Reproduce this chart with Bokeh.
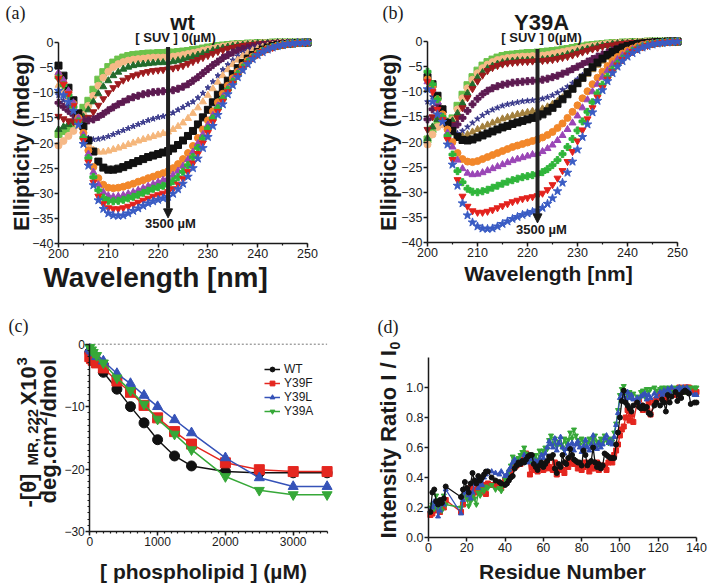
import math
from bokeh.plotting import figure
from bokeh.layouts import row, column
from bokeh.models import (Label, Arrow, NormalHead, Legend, LegendItem, Range1d, LinearAxis,
                          SingleIntervalTicker, PrintfTickFormatter)
from bokeh.embed import file_html
from bokeh.resources import INLINE

# ---------------- data ----------------
WAVELENGTH = list(range(200, 251))

# panel (a) wt : CD spectra at increasing [SUV]
WT_S01 = [-18.2, -17.6, -17.0, -16.2, -15.0, -13.0, -11.6, -9.4, -7.4, -5.9, -4.9,
          -4.0, -3.4, -3.0, -2.7, -2.5, -2.4, -2.3, -2.2, -2.2, -2.1,
          -2.1, -2.0, -2.0, -1.9, -1.8, -1.7, -1.5, -1.4, -1.2, -1.0,
          -0.9, -0.7, -0.6, -0.5, -0.4, -0.3, -0.3, -0.2, -0.2, -0.1,
          -0.1, -0.1, 0, 0, 0, 0, 0, 0, 0, 0]
WT_S02 = [-20.5, -19.6, -18.6, -17.6, -16.4, -14.4, -12.6, -10.6, -8.6, -7.0, -5.8,
          -4.9, -4.3, -3.9, -3.6, -3.4, -3.3, -3.2, -3.1, -3.0, -3.0,
          -3.0, -2.9, -2.8, -2.7, -2.5, -2.3, -2.1, -1.9, -1.6, -1.4,
          -1.2, -1.0, -0.8, -0.7, -0.5, -0.4, -0.4, -0.3, -0.2, -0.2,
          -0.1, -0.1, -0.1, 0, 0, 0, 0, 0, 0, 0]
WT_S03 = [-17.3, -16.8, -16.3, -15.8, -15.4, -14.8, -13.4, -11.8, -10.2, -8.8, -7.6,
          -6.6, -5.9, -5.3, -4.9, -4.6, -4.4, -4.3, -4.2, -4.1, -4.0,
          -4.0, -3.9, -3.8, -3.6, -3.4, -3.1, -2.8, -2.5, -2.2, -1.9,
          -1.6, -1.3, -1.1, -0.9, -0.7, -0.6, -0.5, -0.4, -0.3, -0.2,
          -0.2, -0.1, -0.1, 0, 0, 0, 0, 0, 0, 0]
WT_S04 = [-14.7, -15.2, -15.6, -15.8, -15.8, -15.7, -14.9, -13.8, -12.5, -11.2, -10.0,
          -9.0, -8.2, -7.5, -7.0, -6.6, -6.3, -6.0, -5.8, -5.6, -5.5,
          -5.4, -5.3, -5.1, -4.9, -4.6, -4.2, -3.8, -3.4, -3.0, -2.6,
          -2.2, -1.8, -1.5, -1.2, -1.0, -0.8, -0.6, -0.5, -0.4, -0.3,
          -0.2, -0.2, -0.1, -0.1, 0, 0, 0, 0, 0, 0]
WT_S05 = [-12.0, -12.8, -13.6, -14.4, -15.0, -15.4, -15.5, -15.3, -14.8, -14.2, -13.5,
          -12.9, -12.3, -11.8, -11.3, -10.9, -10.6, -10.3, -10.1, -9.9, -9.8,
          -9.7, -9.6, -9.5, -9.2, -8.8, -8.3, -7.6, -6.9, -6.1, -5.3,
          -4.5, -3.8, -3.1, -2.5, -2.0, -1.6, -1.3, -1.0, -0.8, -0.6,
          -0.5, -0.4, -0.3, -0.2, -0.2, -0.1, -0.1, 0, 0, 0]
WT_S06 = [-10.5, -11.5, -12.6, -13.8, -15.5, -17.8, -19.0, -19.3, -19.2, -19.0, -18.7,
          -18.3, -17.9, -17.5, -17.1, -16.7, -16.3, -15.9, -15.5, -15.2, -14.9,
          -14.7, -14.5, -14.0, -13.4, -12.9, -12.3, -11.8, -11.0, -10.1, -9.0,
          -7.8, -6.6, -5.4, -4.4, -3.5, -2.7, -2.1, -1.6, -1.2, -0.9,
          -0.7, -0.5, -0.4, -0.3, -0.2, -0.2, -0.1, -0.1, 0, 0]
WT_S07 = [-8.5, -9.5, -11.0, -12.8, -14.8, -17.5, -20.3, -21.4, -21.8, -21.8, -21.6,
          -21.3, -21.0, -20.7, -20.3, -20.0, -19.6, -19.3, -19.0, -18.7, -18.4,
          -18.1, -17.8, -17.3, -16.7, -16.0, -15.1, -14.1, -13.0, -11.8, -10.5,
          -9.2, -7.9, -6.6, -5.4, -4.4, -3.5, -2.7, -2.1, -1.6, -1.2,
          -0.9, -0.7, -0.5, -0.4, -0.3, -0.2, -0.1, -0.1, 0, 0]
WT_S08 = [-4.6, -6.6, -9.0, -11.5, -14.1, -16.7, -19.5, -21.7, -23.7, -24.9, -25.3,
          -25.3, -25.1, -24.8, -24.4, -24.0, -23.6, -23.2, -22.8, -22.5, -22.2,
          -21.9, -21.6, -21.1, -20.4, -19.5, -18.6, -17.6, -16.3, -14.9, -13.4,
          -11.9, -10.4, -9.0, -7.6, -6.3, -5.1, -4.1, -3.2, -2.5, -1.9,
          -1.4, -1.0, -0.7, -0.5, -0.4, -0.3, -0.2, -0.1, -0.1, 0]
WT_S09 = [-6.5, -8.0, -10.0, -12.2, -15.0, -18.0, -21.5, -24.8, -27.0, -28.3, -28.9,
          -29.0, -28.9, -28.7, -28.4, -28.1, -27.7, -27.4, -27.0, -26.7, -26.3,
          -26.0, -25.6, -25.0, -24.2, -23.2, -22.0, -20.6, -19.0, -17.3, -15.5,
          -13.7, -11.9, -10.2, -8.6, -7.1, -5.8, -4.6, -3.6, -2.8, -2.1,
          -1.6, -1.2, -0.9, -0.6, -0.4, -0.3, -0.2, -0.1, -0.1, 0]
WT_S10 = [-6.0, -7.5, -9.6, -12.0, -15.0, -18.4, -22.2, -25.8, -28.3, -29.8, -30.5,
          -30.7, -30.6, -30.4, -30.1, -29.8, -29.4, -29.0, -28.6, -28.2, -27.8,
          -27.4, -27.0, -26.4, -25.6, -24.6, -23.3, -21.8, -20.1, -18.3, -16.4,
          -14.5, -12.6, -10.8, -9.1, -7.5, -6.1, -4.9, -3.8, -2.9, -2.2,
          -1.7, -1.3, -0.9, -0.7, -0.5, -0.3, -0.2, -0.1, -0.1, 0]
WT_S11 = [-7.0, -8.5, -10.5, -12.8, -15.7, -19.0, -23.0, -26.8, -29.4, -30.9, -31.5,
          -31.6, -31.5, -31.3, -31.0, -30.7, -30.3, -29.9, -29.5, -29.1, -28.8,
          -28.5, -28.2, -27.6, -26.8, -25.7, -24.4, -22.8, -21.0, -19.1, -17.1,
          -15.1, -13.1, -11.2, -9.4, -7.8, -6.3, -5.0, -3.9, -3.0, -2.3,
          -1.7, -1.3, -0.9, -0.7, -0.5, -0.3, -0.2, -0.1, -0.1, 0]
WT_S12 = [-7.2, -8.3, -10.2, -12.6, -15.8, -19.5, -23.8, -27.8, -30.6, -32.1, -32.9,
          -33.1, -33.1, -32.9, -32.6, -32.2, -31.8, -31.4, -31.0, -30.6, -30.3,
          -30.0, -29.7, -29.1, -28.2, -27.1, -25.7, -24.0, -22.1, -20.0, -17.9,
          -15.8, -13.7, -11.7, -9.8, -8.1, -6.6, -5.2, -4.1, -3.1, -2.4,
          -1.8, -1.3, -1.0, -0.7, -0.5, -0.3, -0.2, -0.1, -0.1, 0]
WT_S13 = [-9.6, -10.5, -11.8, -13.6, -16.4, -20.2, -24.5, -28.4, -31.4, -33.1, -34.0,
          -34.4, -34.5, -34.4, -34.0, -33.5, -33.0, -32.5, -32.0, -31.6, -31.3,
          -31.0, -30.7, -30.1, -29.2, -28.1, -26.7, -25.0, -23.1, -21.0, -18.8,
          -16.6, -14.4, -12.3, -10.3, -8.5, -6.9, -5.5, -4.3, -3.3, -2.5,
          -1.9, -1.4, -1.0, -0.7, -0.5, -0.3, -0.2, -0.1, -0.1, 0]

# panel (b) Y39A
YA_S01 = [-19.5, -17.5, -16.0, -15.8, -16.0, -15.3, -12.8, -10.6, -8.7, -7.1, -5.8,
          -4.8, -4.1, -3.6, -3.2, -2.9, -2.7, -2.6, -2.5, -2.4, -2.3,
          -2.3, -2.2, -2.1, -2.0, -1.9, -1.8, -1.6, -1.5, -1.3, -1.1,
          -1.0, -0.8, -0.7, -0.6, -0.5, -0.4, -0.3, -0.3, -0.2, -0.2,
          -0.1, -0.1, -0.1, 0, 0, 0, 0, 0, 0, 0]
YA_S02 = [-20.5, -18.5, -17.0, -16.5, -16.3, -15.6, -13.5, -11.3, -9.3, -7.6, -6.3,
          -5.3, -4.6, -4.1, -3.7, -3.5, -3.3, -3.2, -3.1, -3.0, -3.0,
          -2.9, -2.9, -2.8, -2.7, -2.5, -2.3, -2.1, -1.9, -1.7, -1.5,
          -1.3, -1.1, -0.9, -0.8, -0.6, -0.5, -0.4, -0.3, -0.3, -0.2,
          -0.2, -0.1, -0.1, 0, 0, 0, 0, 0, 0, 0]
YA_S03 = [-19.3, -17.0, -15.5, -15.6, -16.0, -15.8, -14.3, -12.3, -10.3, -8.6, -7.2,
          -6.2, -5.4, -4.9, -4.5, -4.2, -4.0, -3.9, -3.8, -3.8, -3.7,
          -3.7, -3.7, -3.6, -3.5, -3.3, -3.1, -2.9, -2.6, -2.3, -2.0,
          -1.7, -1.5, -1.2, -1.0, -0.8, -0.7, -0.5, -0.4, -0.3, -0.3,
          -0.2, -0.2, -0.1, -0.1, 0, 0, 0, 0, 0, 0]
YA_S04 = [-17.5, -15.0, -13.5, -14.5, -16.0, -16.5, -15.2, -13.2, -11.2, -9.4, -7.9,
          -6.7, -5.8, -5.2, -4.8, -4.5, -4.3, -4.2, -4.1, -4.0, -4.0,
          -3.9, -3.9, -3.8, -3.7, -3.6, -3.4, -3.2, -3.0, -2.7, -2.4,
          -2.1, -1.8, -1.5, -1.3, -1.0, -0.8, -0.7, -0.5, -0.4, -0.3,
          -0.2, -0.2, -0.1, -0.1, 0, 0, 0, 0, 0, 0]
YA_S05 = [-15.5, -13.5, -12.5, -14.0, -16.2, -17.0, -16.5, -15.2, -13.8, -12.5, -11.4,
          -10.5, -9.8, -9.3, -8.9, -8.6, -8.4, -8.2, -8.1, -8.0, -7.9,
          -7.8, -7.8, -7.6, -7.4, -7.1, -6.8, -6.4, -6.0, -5.5, -5.0,
          -4.5, -4.0, -3.5, -3.0, -2.6, -2.2, -1.8, -1.5, -1.2, -1.0,
          -0.8, -0.6, -0.5, -0.4, -0.3, -0.2, -0.1, -0.1, 0, 0]
YA_S06 = [-12.0, -11.0, -11.5, -13.5, -16.3, -18.0, -18.3, -17.8, -17.0, -16.2, -15.4,
          -14.7, -14.1, -13.6, -13.2, -12.8, -12.5, -12.3, -12.1, -11.9, -11.8,
          -11.7, -11.6, -11.4, -11.1, -10.7, -10.2, -9.6, -9.0, -8.3, -7.5,
          -6.7, -5.9, -5.1, -4.4, -3.7, -3.1, -2.5, -2.0, -1.6, -1.3,
          -1.0, -0.8, -0.6, -0.4, -0.3, -0.2, -0.1, -0.1, 0, 0]
YA_S07 = [-9.5, -9.5, -11.0, -13.5, -16.3, -18.2, -19.0, -18.9, -18.5, -18.0, -17.5,
          -17.0, -16.6, -16.2, -15.8, -15.4, -15.1, -14.8, -14.5, -14.3, -14.1,
          -13.9, -13.7, -13.4, -13.0, -12.5, -11.9, -11.2, -10.4, -9.5, -8.5,
          -7.5, -6.5, -5.6, -4.7, -3.9, -3.2, -2.6, -2.1, -1.7, -1.3,
          -1.0, -0.8, -0.6, -0.4, -0.3, -0.2, -0.1, -0.1, 0, 0]
YA_S08 = [-7.1, -8.5, -10.8, -13.5, -16.2, -17.8, -19.0, -19.6, -19.7, -19.5, -19.1,
          -18.7, -18.3, -17.9, -17.5, -17.1, -16.8, -16.4, -16.1, -15.8, -15.5,
          -15.2, -14.9, -14.5, -13.9, -13.2, -12.4, -11.5, -10.5, -9.4, -8.3,
          -7.2, -6.1, -5.1, -4.2, -3.4, -2.7, -2.1, -1.6, -1.2, -0.9,
          -0.7, -0.5, -0.4, -0.3, -0.2, -0.1, -0.1, 0, 0, 0]
YA_S09 = [-7.5, -9.0, -11.5, -14.5, -17.5, -20.0, -22.2, -23.4, -23.9, -24.0, -23.8,
          -23.4, -23.0, -22.6, -22.2, -21.8, -21.4, -21.0, -20.7, -20.4, -20.1,
          -19.8, -19.5, -19.1, -18.6, -18.0, -17.2, -16.3, -15.2, -14.0, -12.7,
          -11.3, -9.9, -8.5, -7.2, -6.0, -4.9, -3.9, -3.1, -2.4, -1.8,
          -1.4, -1.0, -0.7, -0.5, -0.4, -0.3, -0.2, -0.1, -0.1, 0]
YA_S10 = [-8.0, -9.5, -12.0, -15.0, -18.2, -21.0, -23.6, -25.3, -26.2, -26.5, -26.4,
          -26.1, -25.7, -25.3, -24.9, -24.5, -24.1, -23.7, -23.4, -23.1, -22.8,
          -22.5, -22.3, -21.9, -21.3, -20.6, -19.7, -18.7, -17.5, -16.2, -14.8,
          -13.2, -11.6, -10.0, -8.5, -7.1, -5.8, -4.6, -3.6, -2.8, -2.1,
          -1.6, -1.2, -0.8, -0.6, -0.4, -0.3, -0.2, -0.1, -0.1, 0]
YA_S11 = [-6.0, -8.5, -11.5, -15.0, -18.8, -22.5, -25.8, -28.0, -29.3, -29.9, -30.0,
          -29.8, -29.5, -29.1, -28.7, -28.3, -27.9, -27.6, -27.3, -27.0, -26.8,
          -26.6, -26.4, -26.0, -25.4, -24.6, -23.6, -22.4, -21.0, -19.4, -17.7,
          -15.9, -14.0, -12.1, -10.3, -8.6, -7.0, -5.6, -4.4, -3.4, -2.6,
          -1.9, -1.4, -1.0, -0.7, -0.5, -0.3, -0.2, -0.1, -0.1, 0]
YA_S12 = [-8.0, -10.0, -13.5, -15.5, -19.5, -23.5, -27.5, -30.8, -32.8, -33.7, -34.0,
          -34.0, -33.8, -33.5, -33.1, -32.7, -32.3, -31.9, -31.6, -31.3, -31.1,
          -30.9, -30.7, -30.2, -29.5, -28.5, -27.2, -25.7, -23.9, -21.9, -19.8,
          -17.6, -15.4, -13.2, -11.1, -9.2, -7.5, -6.0, -4.7, -3.6, -2.7,
          -2.0, -1.5, -1.1, -0.8, -0.5, -0.3, -0.2, -0.1, -0.1, 0]
YA_S13 = [-9.5, -12.0, -14.5, -16.0, -20.5, -24.5, -28.7, -32.2, -34.6, -36.0, -36.8,
          -37.2, -37.3, -37.2, -36.8, -36.3, -35.8, -35.3, -34.9, -34.5, -34.2,
          -33.9, -33.6, -33.1, -32.3, -31.2, -29.8, -28.1, -26.1, -23.9, -21.5,
          -19.0, -16.5, -14.1, -11.8, -9.7, -7.9, -6.3, -5.0, -3.9, -3.0,
          -2.3, -1.7, -1.2, -0.9, -0.6, -0.4, -0.3, -0.2, -0.1, 0]

# panel (c) titration at 222 nm
PHOSPHOLIPID = [0, 25, 50, 100, 200, 400, 600, 800, 1000, 1250, 1500, 2000, 2500, 3000, 3500]
C_WT = [-1.3, -1.8, -2.2, -2.9, -4.5, -7.2, -10.0, -12.6, -15.3, -17.9, -19.5, -20.4, -20.6, -20.6, -20.6]
C_Y39F = [-2.0, -2.3, -2.6, -3.0, -3.8, -5.9, -7.7, -9.8, -11.8, -14.0, -16.0, -19.0, -20.1, -20.4, -20.4]
C_Y39L = [-0.8, -1.1, -1.4, -2.0, -2.7, -4.7, -6.3, -8.2, -10.0, -12.1, -14.2, -18.2, -21.4, -22.8, -22.8]
C_Y39A = [-0.5, -0.9, -1.3, -1.8, -3.0, -5.4, -7.4, -9.6, -12.0, -14.4, -16.9, -21.2, -23.4, -24.1, -24.1]

# panel (d) intensity ratios per residue
RESIDUE = ([1, 2, 3, 4, 5, 6, 7, 8, 9,
            17, 18, 19, 20, 21, 22, 23, 24, 25, 26, 27, 28, 29, 30, 31, 33, 35, 37, 38, 40]
           + list(range(41, 100))
           + [100, 101, 102, 103, 104, 105, 106, 107, 109, 110, 111, 112, 113, 114, 115, 116,
              118, 119, 121, 122, 123, 124, 125, 126, 127, 129, 130, 131, 132, 133, 134, 135,
              136, 137, 139, 140])
D_WT = [0.17, 0.30, 0.32, 0.24, 0.22, 0.25, 0.23, 0.26, 0.34,
        0.27, 0.32, 0.37, 0.33, 0.30, 0.36, 0.43, 0.38, 0.36, 0.41, 0.38, 0.40, 0.42, 0.44, 0.44, 0.40, 0.38, 0.37, 0.36, 0.35,
        0.36, 0.38, 0.40, 0.41, 0.46, 0.48, 0.50, 0.49, 0.51, 0.50,
        0.52, 0.54, 0.55, 0.55, 0.49, 0.47, 0.45, 0.48, 0.50, 0.47,
        0.49, 0.51, 0.54, 0.53, 0.55, 0.46, 0.43, 0.49, 0.47, 0.55,
        0.50, 0.49, 0.53, 0.59, 0.55, 0.52, 0.51, 0.50, 0.50, 0.48,
        0.58, 0.55, 0.48, 0.50, 0.51, 0.60, 0.50, 0.47, 0.49, 0.46,
        0.48, 0.56, 0.55, 0.54, 0.53, 0.53, 0.53, 0.62, 0.70,
        0.80, 0.91, 0.98, 0.90, 0.88, 0.86, 0.84, 0.88, 0.90, 0.87, 0.86, 0.88, 0.86, 0.87, 0.83, 0.82,
        0.88, 0.90, 0.88, 0.92, 0.90, 0.84, 0.95, 0.90, 0.94, 0.97, 0.91, 0.95, 0.93, 0.97, 0.98, 0.97,
        0.96, 0.89, 0.90, 0.90]
D_Y39F = [0.15, 0.16, 0.18, 0.20, 0.23, 0.17, 0.21, 0.20, 0.25,
          0.17, 0.22, 0.30, 0.29, 0.26, 0.33, 0.29, 0.32, 0.30, 0.34, 0.30, 0.33, 0.35, 0.29, 0.36, 0.35, 0.35, 0.34, 0.33, 0.38,
          0.40, 0.41, 0.44, 0.46, 0.47, 0.48, 0.50, 0.49, 0.51, 0.52,
          0.56, 0.53, 0.42, 0.47, 0.45, 0.48, 0.44, 0.47, 0.48, 0.45,
          0.46, 0.50, 0.47, 0.46, 0.45, 0.50, 0.42, 0.45, 0.48, 0.45,
          0.43, 0.50, 0.47, 0.52, 0.50, 0.49, 0.50, 0.46, 0.48, 0.45,
          0.47, 0.50, 0.48, 0.44, 0.46, 0.49, 0.46, 0.50, 0.45, 0.48,
          0.47, 0.48, 0.45, 0.50, 0.52, 0.50, 0.55, 0.58, 0.62,
          0.68, 0.72, 0.74, 0.80, 0.85, 0.78, 0.82, 0.77, 0.90, 0.92, 0.88, 0.85, 0.87, 0.86, 0.90, 0.82,
          0.90, 0.92, 0.96, 0.94, 0.97, 0.92, 0.95, 0.99, 0.97, 0.95, 0.98, 1.00, 0.99, 0.97, 1.00, 1.00,
          1.00, 0.98, 0.97, 0.97]
D_Y39L = [0.18, 0.20, 0.24, 0.22, 0.14, 0.18, 0.23, 0.22, 0.32,
          0.16, 0.25, 0.30, 0.32, 0.28, 0.26, 0.30, 0.36, 0.38, 0.33, 0.36, 0.35, 0.40, 0.42, 0.44, 0.44, 0.43, 0.42, 0.44, 0.41,
          0.42, 0.45, 0.47, 0.50, 0.52, 0.50, 0.49, 0.51, 0.50, 0.55,
          0.53, 0.50, 0.52, 0.54, 0.50, 0.51, 0.49, 0.52, 0.55, 0.53,
          0.56, 0.60, 0.64, 0.62, 0.60, 0.66, 0.58, 0.63, 0.67, 0.60,
          0.56, 0.59, 0.62, 0.60, 0.63, 0.58, 0.62, 0.64, 0.60, 0.57,
          0.61, 0.65, 0.60, 0.58, 0.62, 0.68, 0.61, 0.59, 0.63, 0.60,
          0.62, 0.66, 0.68, 0.63, 0.64, 0.62, 0.67, 0.75, 0.83,
          0.93, 0.96, 0.94, 0.92, 0.97, 0.93, 0.95, 0.92, 0.93, 0.90, 0.94, 0.95, 0.96, 0.92, 0.95, 0.93,
          0.96, 0.94, 0.97, 0.95, 0.98, 0.96, 0.99, 0.97, 1.00, 0.98, 0.99, 1.00, 0.98, 1.00, 0.99, 1.00,
          0.98, 0.96, 0.95, 0.95]
D_Y39A = [0.20, 0.22, 0.19, 0.28, 0.20, 0.25, 0.18, 0.28, 0.22,
          0.20, 0.28, 0.30, 0.26, 0.21, 0.24, 0.28, 0.26, 0.22, 0.30, 0.28, 0.32, 0.31, 0.34, 0.33, 0.35, 0.32, 0.33, 0.31, 0.39,
          0.41, 0.44, 0.48, 0.54, 0.52, 0.51, 0.53, 0.55, 0.57, 0.60,
          0.56, 0.53, 0.52, 0.50, 0.53, 0.55, 0.51, 0.58, 0.56, 0.58,
          0.60, 0.59, 0.65, 0.68, 0.62, 0.66, 0.61, 0.64, 0.62, 0.60,
          0.66, 0.63, 0.65, 0.70, 0.66, 0.72, 0.68, 0.65, 0.62, 0.66,
          0.64, 0.61, 0.63, 0.66, 0.62, 0.65, 0.68, 0.64, 0.62, 0.66,
          0.63, 0.68, 0.65, 0.63, 0.66, 0.64, 0.70, 0.76, 0.85,
          0.95, 0.99, 1.01, 0.97, 0.95, 0.97, 0.93, 0.96, 0.94, 0.92, 0.97, 0.98, 0.94, 0.99, 0.97, 0.99,
          1.00, 0.98, 0.99, 1.00, 0.98, 1.00, 0.99, 1.00, 0.97, 1.00, 0.98, 0.99, 1.00, 0.98, 0.97, 1.00,
          0.99, 1.00, 1.00, 1.00]

# ---------------- styles ----------------
SANS = "Liberation Sans"
SERIF = "Liberation Serif"
INK = "#1a1a1a"
R90 = math.pi / 2

CD_STYLE_A = [("square", "#6cc24a", 7), ("circle", "#f6b987", 7), ("triangle", "#236b2c", 7),
              ("inverted_triangle", "#9e1b1e", 7), ("plus", "#5c1a50", 7), ("star", "#3b3b8c", 6),
              ("triangle", "#f5b77c", 7), ("square", "#111111", 7), ("circle", "#f2872a", 7),
              ("triangle", "#9a46b6", 7), ("plus", "#2fb53a", 7), ("inverted_triangle", "#e3221d", 7),
              ("star", "#3a5cc4", 9)]
CD_STYLE_B = list(CD_STYLE_A)
CD_STYLE_B[6] = ("triangle", "#a3803e", 7)


# page-pixel -> data converters (each panel's frame fills its whole figure)
def conv_a(X, Y):
    return 200 + (X - 58) / 4.98, -(Y - 42) / 5.025


def conv_b(X, Y):
    return 200 + (X - 427) / 5.0, -(Y - 41) / 5.025


def conv_c(X, Y):
    return (X - 89.3) * 3000 / 203.4, -(Y - 343.7) * 30 / 187.3


def conv_d(X, Y):
    return (X - 428) * 140 / 268.0, (537 - Y) * 1.2 / 180.0


def mkfig(geom, conv):
    X0, Y0, W, H = geom
    xs, yt = conv(X0, Y0)
    xe, yb = conv(X0 + W, Y0 + H)
    p = figure(width=W, height=H, x_range=Range1d(xs, xe), y_range=Range1d(yb, yt),
               min_border=0, x_axis_location=None, y_axis_location=None, title=None,
               output_backend="svg", toolbar_location=None, tools="")
    p.grid.visible = False
    p.outline_line_color = None
    return p


def style_axis(ax, size):
    ax.axis_line_width = 1.5
    ax.axis_line_color = INK
    ax.major_tick_line_width = 1.5
    ax.major_tick_line_color = INK
    ax.minor_tick_line_color = INK
    ax.minor_tick_line_width = 1.2
    ax.major_tick_out = 4
    ax.major_tick_in = 0
    ax.minor_tick_out = 2
    ax.minor_tick_in = 0
    ax.major_label_text_font = SANS
    ax.major_label_text_font_size = size
    ax.major_label_text_color = INK
    ax.major_label_standoff = 1


def add_axes(p, x_at, x_bounds, x_ticker, y_at, y_bounds, y_ticker, y_fmt=None, size="12.5px"):
    xa = LinearAxis(fixed_location=x_at, bounds=x_bounds, ticker=x_ticker)
    ya = LinearAxis(fixed_location=y_at, bounds=y_bounds, ticker=y_ticker)
    if y_fmt is not None:
        ya.formatter = y_fmt
    style_axis(xa, size)
    style_axis(ya, size)
    p.add_layout(xa, "below")
    p.add_layout(ya, "left")


def add_text(p, conv, X, Y, text, size, bold=True, font=SANS, angle=0.0,
             align="center", baseline="middle"):
    x, y = conv(X, Y)
    p.add_layout(Label(x=x, y=y, text=text, text_font=font, text_font_size=f"{size}px",
                       text_font_style="bold" if bold else "normal", angle=angle,
                       text_align=align, text_baseline=baseline, text_color=INK))


def cd_panel(geom, series, styles, conv, tag, tag_x, title, title_x, ylab_x,
             xlab_x, xlab_y, xlab_size, arrow_top, arrow_tip, suv_x, end_x, end_y):
    p = mkfig(geom, conv)
    add_axes(p, -40, (200, 250), SingleIntervalTicker(interval=10, num_minor_ticks=2),
             200, (-40, 0), SingleIntervalTicker(interval=5, num_minor_ticks=0))
    for vals, (m, c, s) in zip(series, styles):
        p.scatter(WAVELENGTH, vals, marker=m, size=s, fill_color=c, line_color=c, line_width=1)
    p.add_layout(Arrow(end=NormalHead(size=9, fill_color=INK, line_color=INK),
                       x_start=222, y_start=arrow_top, x_end=222, y_end=arrow_tip,
                       line_width=4, line_color="#222222"))
    add_text(p, conv, tag_x, 12, tag, 18, bold=False, font=SERIF, align="left")
    add_text(p, conv, title_x, 22, title, 22, baseline="alphabetic")
    add_text(p, conv, ylab_x, 142, "Ellipticity (mdeg)", 22, angle=R90)
    add_text(p, conv, xlab_x, xlab_y, "Wavelength [nm]", xlab_size)
    add_text(p, conv, suv_x, 37, "[ SUV ] 0(µM)", 13)
    add_text(p, conv, end_x, end_y, "3500 µM", 13)
    return p


fa = cd_panel((0, 0, 350, 300),
              [WT_S01, WT_S02, WT_S03, WT_S04, WT_S05, WT_S06, WT_S07, WT_S08, WT_S09,
               WT_S10, WT_S11, WT_S12, WT_S13], CD_STYLE_A, conv_a,
              "(a)", 5, "wt", 182, 21, 155, 277, 28, -0.9, -34.9, 175, 170, 223)
fb = cd_panel((350, 0, 358, 300),
              [YA_S01, YA_S02, YA_S03, YA_S04, YA_S05, YA_S06, YA_S07, YA_S08, YA_S09,
               YA_S10, YA_S11, YA_S12, YA_S13], CD_STYLE_B, conv_b,
              "(b)", 382, "Y39A", 541, 388, 548, 273, 21, -1.5, -36.1, 541, 541, 229)

# ---------------- panel (c) ----------------
fc = mkfig((0, 300, 360, 285), conv_c)
add_axes(fc, -30, (0, 3500), SingleIntervalTicker(interval=1000, num_minor_ticks=10),
         0, (-30, 0), SingleIntervalTicker(interval=10, num_minor_ticks=10), size="12px")
fc.segment(x0=PHOSPHOLIPID[0], y0=0, x1=PHOSPHOLIPID[-1], y1=0, line_color="#777777",
           line_dash="2 2", line_width=1)
C_SERIES = [("WT", C_WT, "circle", "#111111"), ("Y39F", C_Y39F, "square", "#e4261f"),
            ("Y39L", C_Y39L, "triangle", "#3552b8"), ("Y39A", C_Y39A, "inverted_triangle", "#36a838")]
items = []
for name, vals, m, c in C_SERIES:
    lr = fc.line(PHOSPHOLIPID, vals, line_color=c, line_width=1.5)
    sr = fc.scatter(PHOSPHOLIPID, vals, marker=m, size=10, fill_color=c, line_color=c)
    items.append(LegendItem(label=name, renderers=[lr, sr]))
fc.add_layout(Legend(items=items, location=(264, 167), glyph_width=16, glyph_height=12,
                     label_height=12, label_standoff=4, spacing=-1, padding=0, margin=0,
                     border_line_color=None, background_fill_alpha=0,
                     label_text_font=SANS, label_text_font_size="12px", label_text_color=INK))
add_text(fc, conv_c, 8, 325, "(c)", 18, bold=False, font=SERIF, align="left")
add_text(fc, conv_c, 28, 507, "-[θ] ", 22, angle=R90, align="left")
add_text(fc, conv_c, 32, 465, "MR, 222 ", 15, angle=R90, align="left")
add_text(fc, conv_c, 28, 405, "X10", 22, angle=R90, align="left")
add_text(fc, conv_c, 21, 365, "3", 15, angle=R90, align="left")
add_text(fc, conv_c, 48, 503, "deg.cm", 22, angle=R90, align="left")
add_text(fc, conv_c, 41, 425, "2", 15, angle=R90, align="left")
add_text(fc, conv_c, 48, 417, "/dmol", 22, angle=R90, align="left")
add_text(fc, conv_c, 203, 571, "[ phospholipid ] (µM)", 21)

# ---------------- panel (d) ----------------
fd = mkfig((360, 300, 348, 285), conv_d)
add_axes(fd, 0, (0, 140), SingleIntervalTicker(interval=20, num_minor_ticks=0),
         0, (0, 1.2), SingleIntervalTicker(interval=0.2, num_minor_ticks=0),
         PrintfTickFormatter(format="%.1f"))
D_SERIES = [(D_Y39F, "square", "#e4261f"), (D_Y39A, "inverted_triangle", "#36a838"),
            (D_Y39L, "triangle", "#3552b8"), (D_WT, "circle", "#111111")]
for vals, m, c in D_SERIES:
    fd.line(RESIDUE, vals, line_color=c, line_width=1.3)
    fd.scatter(RESIDUE, vals, marker=m, size=5, fill_color=c, line_color=c)
add_text(fd, conv_d, 377, 326, "(d)", 18, bold=False, font=SERIF, align="left")
add_text(fd, conv_d, 388, 538, "Intensity Ratio I / I", 22, angle=R90, align="left")
add_text(fd, conv_d, 394, 349, "0", 14, angle=R90, align="left")
add_text(fd, conv_d, 562, 571, "Residue Number", 21)

layout = column(row(fa, fb), row(fc, fd))
open("out.html", "w").write(file_html(layout, INLINE))
